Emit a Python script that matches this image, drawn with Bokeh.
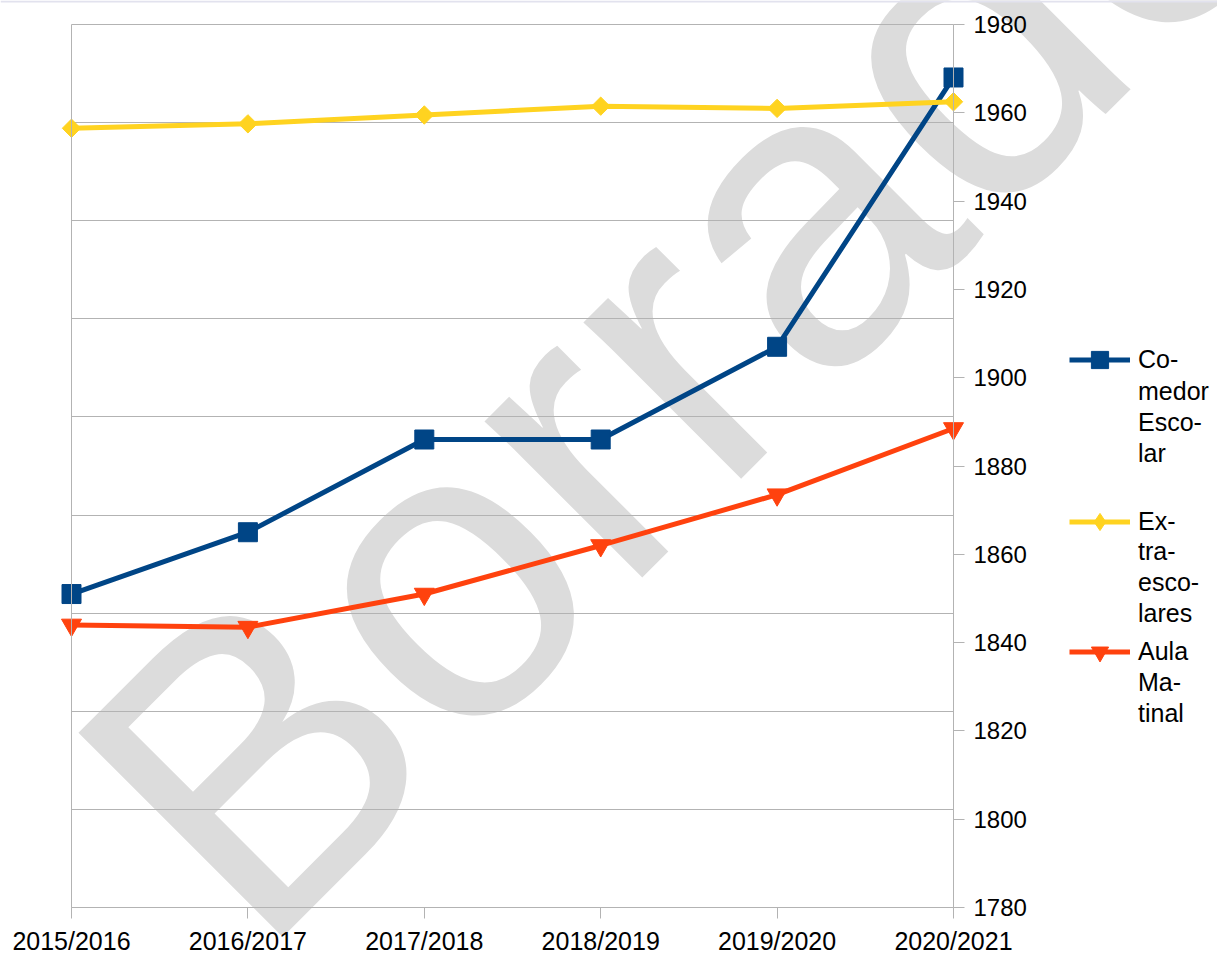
import math
from bokeh.plotting import figure
from bokeh.models import Range1d, FixedTicker, Legend, LegendItem, Label, LinearAxis, BoxAnnotation
from bokeh.embed import file_html
from bokeh.resources import INLINE

# ---- data ----
categories = ["2015/2016", "2016/2017", "2017/2018", "2018/2019", "2019/2020", "2020/2021"]
comedor_escolar = [1851, 1865, 1886, 1886, 1907, 1968]
extraescolares = [1956.5, 1957.5, 1959.5, 1961.5, 1961, 1962.5]
aula_matinal = [1844, 1843.5, 1851, 1862, 1873.5, 1888.5]
legend_lines = [["Co-", "medor", "Esco-", "lar"],
                ["Ex-", "tra-", "esco-", "lares"],
                ["Aula", "Ma-", "tinal"]]
y_ticks = [1780, 1800, 1820, 1840, 1860, 1880, 1900, 1920, 1940, 1960, 1980]
watermark_text = "Borrador"

# ---- layout (pixels) ----
W, H = 1217, 953
PL, PR, PT, PB = 71, 953, 24, 907      # plot-area box on the canvas
LEG_X = 1069                           # legend glyph left edge
LEG_FIRST = [360, 521, 652]            # centre of each legend entry's first line
ROW = 31                               # legend line pitch
GLYPH_ROW = 43                         # height of the row holding the legend symbol

FONT = "Liberation Sans"
GRAY = "#b3b3b3"
C_BLUE = "#004586"
C_YELLOW = "#ffd320"
C_ORANGE = "#ff420e"

n = len(categories)
x = list(range(n))
lo, hi = y_ticks[0], y_ticks[-1]
sx = (PR - PL) / (n - 1)          # px per category step
sy = (PB - PT) / (hi - lo)        # px per unit


def xd(px):   # canvas px -> data x
    return (px - PL) / sx


def yd(py):   # canvas px (from top) -> data y
    return lo + (PB - py) / sy


p = figure(width=W, height=H, output_backend="svg", toolbar_location=None,
           x_range=Range1d(xd(0), xd(W)), y_range=Range1d(yd(H), yd(0)),
           y_axis_location="right",
           min_border=0, min_border_left=0, min_border_right=0, min_border_top=0, min_border_bottom=0)
p.outline_line_color = None
p.background_fill_color = "white"
p.border_fill_color = "white"

# grid (9 equal divisions, from the hidden primary axis)
p.xgrid.visible = False
p.ygrid.ticker = FixedTicker(ticks=[lo + i * (hi - lo) / 9 for i in range(10)])
p.ygrid.grid_line_color = GRAY
p.ygrid.cross_bounds = (0, n - 1)

# x axis
xa = p.xaxis[0]
xa.fixed_location = lo
xa.bounds = (0, n - 1)
xa.ticker = FixedTicker(ticks=x)
xa.major_label_overrides = {i: c for i, c in enumerate(categories)}
xa.axis_line_color = GRAY
xa.major_tick_line_color = GRAY
xa.major_tick_out = 11
xa.major_tick_in = 0
xa.minor_tick_line_color = None
xa.major_label_text_font = FONT
xa.major_label_text_font_size = "25px"
xa.major_label_text_color = "black"
xa.major_label_standoff = 8

# y axis (right)
ya = p.yaxis[0]
ya.fixed_location = n - 1
ya.bounds = (lo, hi)
ya.ticker = FixedTicker(ticks=y_ticks)
ya.axis_line_color = GRAY
ya.major_tick_line_color = GRAY
ya.major_tick_out = 11
ya.major_tick_in = 0
ya.minor_tick_line_color = None
ya.major_label_text_font = FONT
ya.major_label_text_font_size = "24px"
ya.major_label_text_color = "black"
ya.major_label_standoff = 9

# left edge of the plot area (primary axis, no ticks or labels)
la = LinearAxis(fixed_location=0, bounds=(lo, hi), ticker=FixedTicker(ticks=[]),
                axis_line_color=GRAY, major_tick_line_color=None, minor_tick_line_color=None,
                major_label_text_font_size="0px")
p.add_layout(la, "left")

# watermark
wm = Label(x=xd(155), y=yd(858), text=watermark_text, angle=math.pi / 4,
           text_font=FONT, text_font_size="420px", text_color="#dcdcdc",
           text_align="left", text_baseline="alphabetic", level="image")
p.add_layout(wm)

# thin band at the very top of the page
p.add_layout(BoxAnnotation(bottom=yd(2), fill_color="#e2e2ee", fill_alpha=1, line_color=None, level="overlay"))

# series
r1 = p.line(x, comedor_escolar, line_color=C_BLUE, line_width=5)
m1 = p.scatter(x, comedor_escolar, marker="square", size=19, fill_color=C_BLUE, line_color=C_BLUE)
r2 = p.line(x, extraescolares, line_color=C_YELLOW, line_width=5)
# diamond symbol used by the legend (the legend draws markers unrotated); hidden under the plot markers
m2_key = p.scatter(x, extraescolares, marker="diamond", size=13, fill_color=C_YELLOW, line_color=C_YELLOW)
m2 = p.scatter(x, extraescolares, marker="square", angle=math.pi / 4, size=13,
               fill_color=C_YELLOW, line_color=C_YELLOW)
r3 = p.line(x, aula_matinal, line_color=C_ORANGE, line_width=5)
m3 = p.scatter(x, aula_matinal, marker="inverted_triangle", size=20, fill_color=C_ORANGE, line_color=C_ORANGE)

legend_style = dict(orientation="vertical", label_text_font=FONT, label_text_font_size="25px",
                    label_text_color="black", glyph_width=61, label_standoff=8, spacing=0,
                    padding=0, margin=0, border_line_color=None, background_fill_alpha=0)

# legend: one block per series, label wrapped over several lines
for lines, rends, first in zip(legend_lines, [[r1, m1], [r2, m2_key], [r3, m3]], LEG_FIRST):
    head_bottom = first + GLYPH_ROW / 2
    head = Legend(items=[LegendItem(label=lines[0], renderers=rends)],
                  location=(LEG_X, round(H - head_bottom)),
                  glyph_height=GLYPH_ROW, label_height=GLYPH_ROW, **legend_style)
    p.add_layout(head)
    rest_bottom = first - ROW / 2 + ROW * len(lines)
    rest = Legend(items=[LegendItem(label=t, renderers=[]) for t in lines[1:]],
                  location=(LEG_X, round(H - rest_bottom)),
                  glyph_height=ROW, label_height=ROW, **legend_style)
    p.add_layout(rest)

open("out.html", "w").write(file_html(p, INLINE))
